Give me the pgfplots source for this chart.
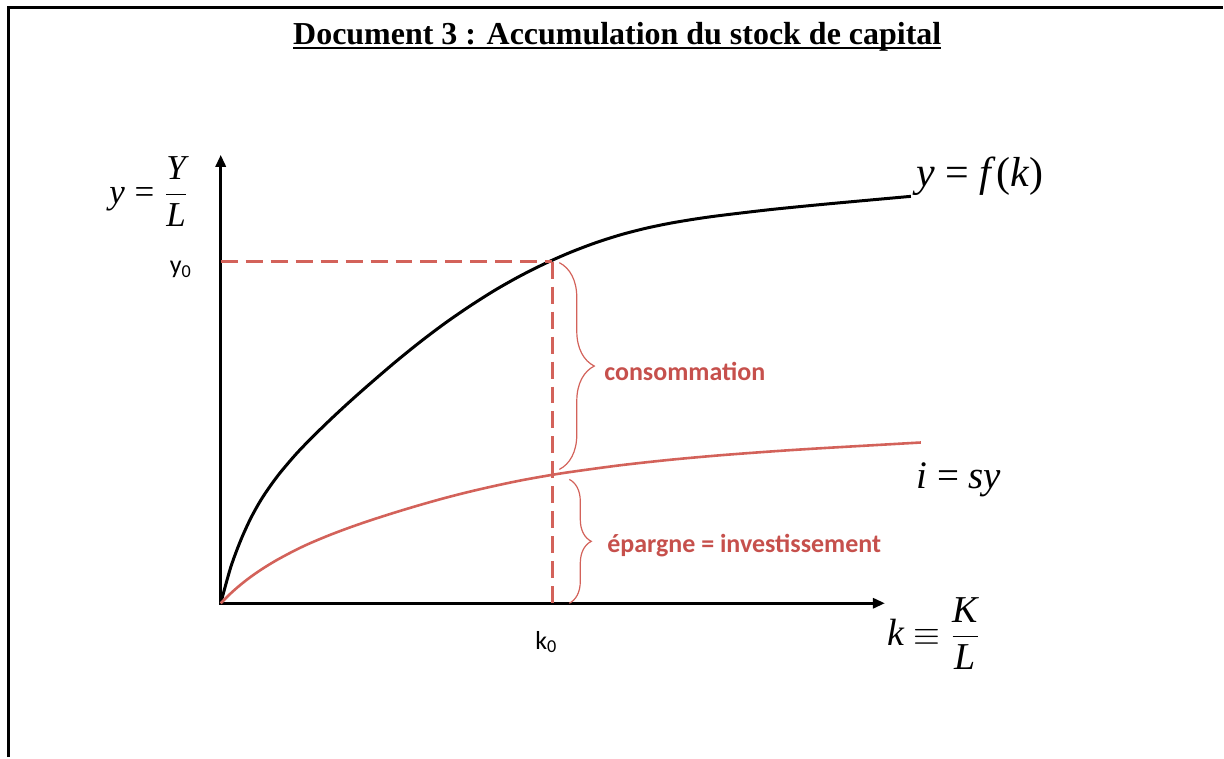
\documentclass[border=0pt]{standalone}
\usepackage{fontspec}
\setmainfont{Liberation Serif}
\newfontfamily\calibri{Carlito}
\usepackage{pgfplots}
\pgfplotsset{compat=1.18}
\usetikzlibrary{arrows.meta,decorations.pathreplacing}
\definecolor{sred}{RGB}{211,98,90}
\definecolor{tred}{RGB}{198,80,76}
\newcommand{\mi}[1]{\textit{#1}}
\newsavebox{\ttlbox}
\newcommand{\ul}[1]{\sbox{\ttlbox}{#1}\rlap{\rule[-2pt]{\wd\ttlbox}{1pt}}\usebox{\ttlbox}}
\begin{document}
\begin{tikzpicture}
\begin{axis}[scale only axis,
  width=612pt,height=379pt,
  xmin=-221,xmax=1003,ymin=-154,ymax=604,
  hide axis,clip=false]
\path (rel axis cs:0,0) rectangle (rel axis cs:1,1);
% frame
\draw[black,line width=1.5pt] (axis cs:-212,-154) -- (axis cs:-212,596) -- (axis cs:1003,596);
% title
\node[anchor=base,inner sep=0pt,font=\bfseries\fontsize{16}{19}\selectfont] at (axis cs:397,559)
  {\ul{Document 3 : Accumulation du stock de capital}};
% axes
\addplot[black,line width=1.5pt,line join=miter,
  {Triangle[length=6pt,width=5pt]}-{Triangle[length=6pt,width=5pt]}]
  coordinates {(0,449) (0,0) (665,0)};
% f(k)
\addplot[black,line width=1.5pt,smooth] coordinates {
(0,0) (10,36) (20,63) (30,85) (40,103) (50,118) (60,131.3) (75,148.9)
(90,164.6) (110,184.1) (130,202.6) (150,220.3) (175,241.7) (200,261.9)
(225,280.7) (250,297.9) (275,313.7) (300,327.8) (325,340.3) (350,351.3)
(375,360.8) (400,368.8) (425,375.3) (450,380.5) (475,384.7) (500,388.2)
(550,394.1) (600,399.1) (650,403.7) (691,407.4)};
% sy
\addplot[sred,line width=1.3pt,smooth] coordinates {
(0,0) (10,9.9) (20,18.65) (30,26.4) (40,33.35) (50,39.65) (60,45.4) (75,53.3)
(90,60.35) (110,68.65) (130,76.15) (150,83.05) (175,91.05) (200,98.55)
(225,105.55) (250,111.9) (275,117.65) (300,122.9) (325,127.4) (350,131.4)
(400,138.15) (450,143.65) (500,148.15) (550,151.9) (600,155.15) (701,160.95)};
% dashed guides
\addplot[sred,line width=1.5pt,dash pattern=on 8.5pt off 4pt] coordinates {(0,342) (332,342)};
\addplot[sred,line width=1.5pt,dash pattern=on 8.5pt off 4pt] coordinates {(332,342) (332,0)};
% braces
\draw[sred,line width=0.6pt,decorate,decoration={brace,amplitude=17.5pt}]
  (axis cs:339,341) -- (axis cs:339,134);
\draw[sred,line width=0.6pt,decorate,decoration={brace,amplitude=11pt}]
  (axis cs:349,124) -- (axis cs:349,0);
% labels
\node[anchor=west,text=tred,font=\calibri\bfseries\fontsize{13}{15}\selectfont]
  at (axis cs:377,232) {consommation};
\node[anchor=west,text=tred,font=\calibri\bfseries\fontsize{13}{15}\selectfont]
  at (axis cs:380,58) {épargne = investissement};
\node[font=\calibri\fontsize{13}{15}\selectfont] at (axis cs:-40,334) {y\textsubscript{0}};
\node[font=\calibri\fontsize{13}{15}\selectfont] at (axis cs:326,-39) {k\textsubscript{0}};
\node[font=\fontsize{17.5}{20}\selectfont] at (axis cs:-72,412)
  {$\mi{y}\mathrel{\mbox{=}}\displaystyle\frac{\mi{Y}}{\mi{L}}$};
\node[font=\fontsize{21}{24}\selectfont] at (axis cs:760,428)
  {\mi{y} = \mi{f}(\mi{k})};
\node[font=\fontsize{19.5}{22}\selectfont] at (axis cs:739,124)
  {\mi{i} = \mi{sy}};
\node[font=\fontsize{19}{22}\selectfont] at (axis cs:714,-30)
  {$\mi{k}\equiv\displaystyle\frac{\mi{K}}{\mi{L}}$};
\end{axis}
\end{tikzpicture}
\end{document}
